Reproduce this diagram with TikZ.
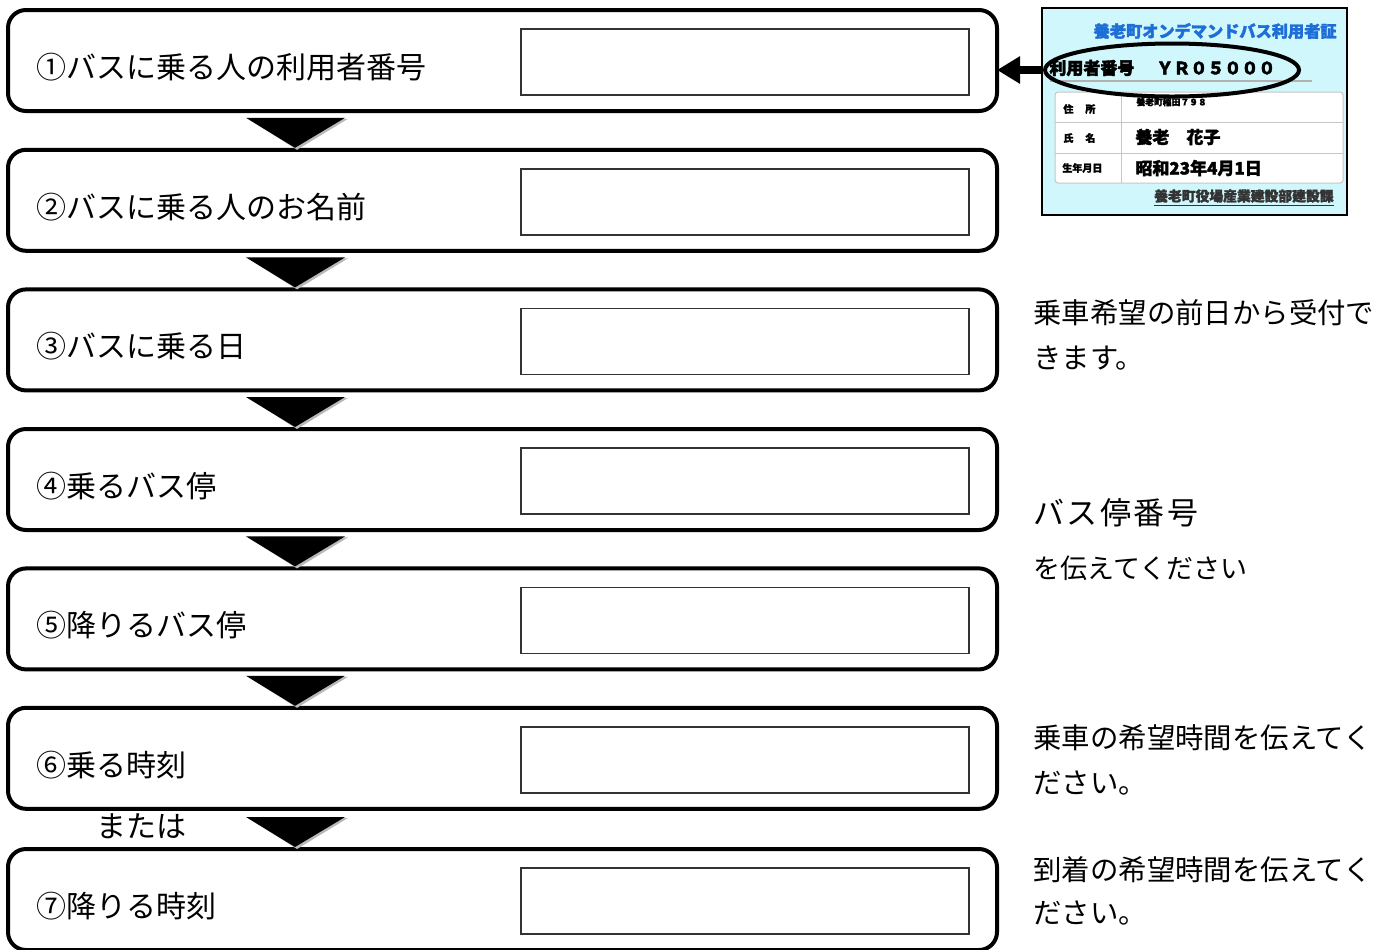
\documentclass[tikz,border=0pt]{standalone}
\usepackage{fontspec}
\newfontfamily\jp[AutoFakeBold=2.5]{Noto Sans CJK JP}
\newfontfamily\jpheavy[FakeBold=2]{Noto Sans CJK JP}
\usetikzlibrary{arrows.meta,shapes.geometric,calc}
\definecolor{cardcyan}{RGB}{208,247,252}
\definecolor{titleblue}{RGB}{30,110,215}
\begin{document}
\begin{tikzpicture}[x=0.5pt,y=-0.5pt,
  stepbox/.style={draw, line width=2pt, rounded corners=9pt, minimum width=494.5pt,
    minimum height=50.5pt, inner sep=0pt, outer sep=0pt, anchor=north west},
  inputbox/.style={draw=black!80, line width=0.8pt, minimum width=224pt,
    minimum height=33pt, inner sep=0pt, outer sep=0pt, anchor=north west},
  steplabel/.style={font=\jp\fontsize{15pt}{18pt}\selectfont, anchor=west, inner sep=0pt},
  rtext/.style={font=\jp\fontsize{14.2pt}{17pt}\selectfont, anchor=west, inner sep=0pt},
  cardtext/.style={font=\jpheavy\bfseries\fontsize{8.5pt}{10pt}\selectfont, anchor=west, inner sep=0pt},
  smalltext/.style={font=\jpheavy\bfseries\fontsize{5pt}{6pt}\selectfont, anchor=west, inner sep=0pt},
]
\clip (0,0) rectangle (1391,949);
\fill[white] (0,0) rectangle (1391,949);

% step boxes
\foreach \i/\t/\lab in {1/10/①バスに乗る人の利用者番号, 2/149.8/②バスに乗る人のお名前,
  3/289.4/③バスに乗る日, 4/429/④乗るバス停, 5/568.4/⑤降りるバス停,
  6/707.8/⑥乗る時刻, 7/849/⑦降りる時刻}{
  \node[stepbox] (b\i) at (8,\t) {};
  \node[inputbox] (in\i) at (521,\t+19) {};
  \node[steplabel] (l\i) at (36,\t+57) {\lab};
}

% down triangles between boxes
\foreach \j in {2,...,7}{
  \fill[gray!55] ($(b\j.north west)+(240,-31)$) -- ($(b\j.north west)+(340,-31)$)
     -- ($(b\j.north west)+(289,0)$) -- cycle;
  \fill[black] ($(b\j.north west)+(238,-32)$) -- ($(b\j.north west)+(337,-32)$)
     -- ($(b\j.north west)+(287,-2)$) -- cycle;
}

\node[steplabel] (mataha) at (96,826) {または};

% right-side notes
\node[rtext] (n1a) at (1033,313) {乗車希望の前日から受付で};
\node[rtext] (n1b) at (1033,358) {きます。};
\node[rtext, font=\jp\fontsize{15.5pt}{18pt}\selectfont\addfontfeature{LetterSpace=8}] (n2a) at (1033,513) {バス停番号};
\node[rtext, font=\jp\fontsize{13.5pt}{16pt}\selectfont] (n2b) at (1033,568) {を伝えてください};
\node[rtext] (n3a) at (1033,738) {乗車の希望時間を伝えてく};
\node[rtext] (n3b) at (1033,783) {ださい。};
\node[rtext] (n4a) at (1033,870) {到着の希望時間を伝えてく};
\node[rtext] (n4b) at (1033,913) {ださい。};

% user card
\node[draw, line width=1.2pt, fill=cardcyan, minimum width=152.5pt, minimum height=103.5pt,
  inner sep=0pt, outer sep=0pt, anchor=north west] (card) at (1042,8) {};
\node[cardtext, font=\jpheavy\bfseries\fontsize{8.1pt}{10pt}\selectfont, text=titleblue, anchor=east]
  (ctitle) at (1337,31) {養老町オンデマンドバス利用者証};
\node[cardtext] (cnumlab) at (1049,68) {利用者番号};
\node[cardtext] (cnum) at (1156,68) {ＹＲ０５０００};
\draw[gray!60, line width=0.6pt] (1050,81) -- (1312,81);
\node[draw=gray!45, line width=0.5pt, fill=white, rounded corners=1.5pt, minimum width=144pt,
  minimum height=45.5pt, inner sep=0pt, outer sep=0pt, anchor=north west] (tbl) at (1055,92) {};
\draw[gray!45, line width=0.5pt] (1055,122) -- (1343,122) (1055,153) -- (1343,153)
  (1121,92) -- (1121,183);
\node[smalltext] (tl1) at (1063,109) {住\hspace{6pt}所};
\node[smalltext] (tl2) at (1063,138) {氏\hspace{6pt}名};
\node[smalltext] (tl3) at (1062,168) {生年月日};
\node[smalltext, font=\jpheavy\bfseries\fontsize{4.4pt}{5pt}\selectfont] (tv1) at (1136,102) {養老町稲田７９８};
\node[cardtext] (tv2) at (1135,137) {養老\hspace{8.5pt}花子};
\node[cardtext] (tv3) at (1135,168) {昭和23年4月1日};
\node[cardtext, font=\jpheavy\bfseries\fontsize{6.9pt}{8pt}\selectfont, text=black!80, anchor=east]
  (cdept) at (1334,198) {\underline{養老町役場産業建設部建設課}};

% ellipse and arrow
\node[ellipse, draw, line width=2pt, minimum width=127pt, minimum height=26.5pt,
  inner sep=0pt] (ell) at (1172,70) {};
\draw[line width=4pt, -{Triangle[length=11.5pt,width=13pt]}] (ell.west) -- (ell.west -| b1.east);
\end{tikzpicture}
\end{document}
